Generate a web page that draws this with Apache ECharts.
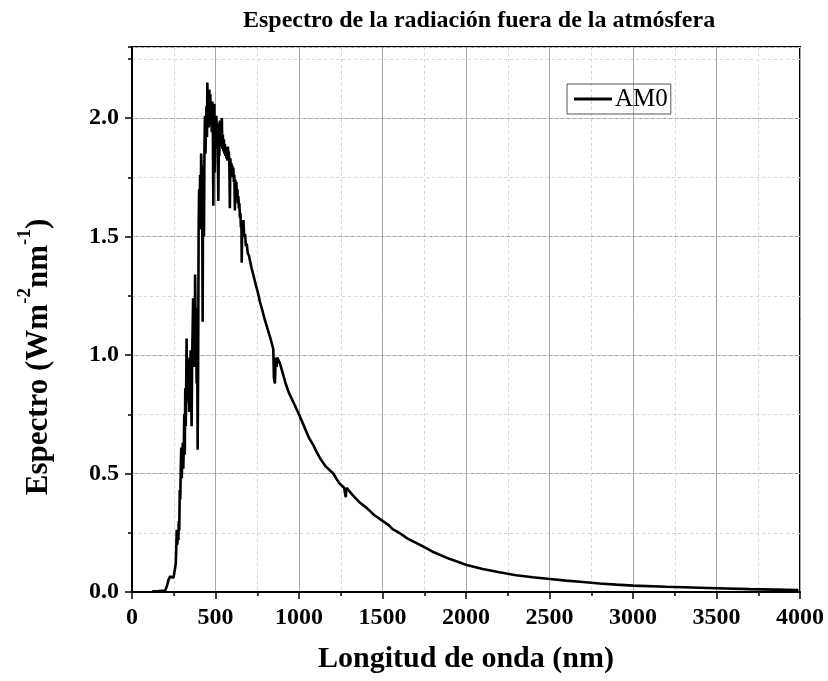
<!DOCTYPE html>
<html>
<head>
<meta charset="utf-8">
<script src="https://cdn.jsdelivr.net/npm/echarts@6/dist/echarts.min.js"></script>
<style>html,body{margin:0;padding:0;background:#fff}#c{width:828px;height:681px}</style>
</head>
<body>
<div id="c"></div>
<script>
// Wavelength (nm) and AM0 spectral irradiance (W m^-2 nm^-1)
const wavelengthNm = [
 120,160,198,208,218,228,238,248,252,257,262,265,268,271,275,278,
 280,283,286,289,292,295,298,301,304,307,310,313,316,319,322,325,327,330,333,336,339,342,345,348,
 351,354,357,360,363,366,369,372,375,378,381,384,387,390,393,396,399,402,405,408,411,414,417,420,
 423,426,429,431,434,437,440,443,446,449,451,454,457,460,463,466,469,472,475,478,481,484,487,490,
 493,496,499,502,505,508,511,514,517,520,523,526,529,532,535,538,541,544,547,550,553,556,559,562,
 565,568,571,574,577,580,583,586,589,592,595,598,601,604,607,610,613,616,619,622,625,628,631,634,
 637,640,643,646,649,652,655,657,660,664,667,672,677,682,687,693,700,
 715,726,740,755,766,780,795,810,825,835,846,850,856,860,866,870,886,900,920,940,960,980,1006,
 1030,1060,1086,1106,1130,1160,1205,1240,1270,1280,1285,1320,1360,1405,1450,1505,1540,1560,1585,1600,
 1650,1725,1800,1900,2004,2100,2200,2300,2400,2503,2600,2700,2800,2900,3002,3200,3400,3501,3700,3850,
 3990
];
const am0Irradiance = [
 0.002,0.004,0.006,0.022,0.05,0.065,0.072,0.06,0.075,0.079,0.12,0.18,0.263,0.20,0.24,0.22,
 0.30,0.26,0.43,0.39,0.52,0.61,0.48,0.56,0.63,0.52,0.60,0.75,0.58,0.86,0.70,0.92,1.07,0.80,0.98,0.84,0.95,0.76,0.99,0.88,
 1.02,0.84,0.70,0.98,1.10,1.24,1.02,1.18,0.95,1.34,1.10,1.20,0.88,1.18,0.60,0.95,1.53,1.70,1.62,1.76,1.53,1.85,1.78,1.70,
 1.14,1.80,1.62,1.50,1.88,2.01,1.85,1.96,2.05,1.92,2.15,2.02,2.08,1.96,2.12,2.04,2.10,1.97,2.04,1.94,2.07,1.98,1.63,1.95,
 2.06,1.77,1.96,1.88,2.01,1.92,1.98,1.86,1.65,1.90,1.84,1.99,1.90,1.97,1.88,2.00,1.87,1.93,1.86,1.91,1.85,1.89,1.84,1.88,
 1.83,1.87,1.82,1.88,1.84,1.86,1.80,1.62,1.83,1.78,1.81,1.76,1.80,1.75,1.79,1.73,1.76,1.61,1.74,1.70,1.73,1.67,1.70,1.64,
 1.67,1.62,1.64,1.58,1.60,1.54,1.56,1.39,1.55,1.52,1.57,1.50,1.51,1.46,1.47,1.43,1.42,
 1.37,1.34,1.30,1.26,1.225,1.19,1.15,1.115,1.08,1.055,1.025,0.90,0.88,0.99,0.95,0.99,0.965,0.93,0.88,0.84,0.81,0.78,0.74,
 0.70,0.65,0.62,0.59,0.56,0.53,0.50,0.46,0.44,0.40,0.44,0.41,0.38,0.355,0.325,0.298,0.28,0.265,0.256,0.25,
 0.225,0.199,0.17,0.14,0.114,0.097,0.083,0.071,0.062,0.055,0.048,0.042,0.036,0.031,0.027,0.022,0.018,0.016,0.012,0.010,
 0.008
];
const seriesName = 'AM0';
const chartTitle = 'Espectro de la radiación fuera de la atmósfera';
const xAxisTitle = 'Longitud de onda (nm)';

const serif = '"Liberation Serif", "Times New Roman", serif';
const points = wavelengthNm.map((w, i) => [w, am0Irradiance[i]]);

const chart = echarts.init(document.getElementById('c'), null, {renderer: 'canvas'});
chart.setOption({
  animation: false,
  backgroundColor: '#fff',
  title: {
    text: chartTitle, left: 238, top: 4,
    textStyle: {fontFamily: serif, fontWeight: 'bold', fontSize: 24, color: '#000'}
  },
  legend: {
    data: [seriesName], left: 567, top: 84,
    orient: 'vertical', icon: 'rect',
    borderColor: '#555', borderWidth: 1, borderRadius: 0,
    padding: [1, 3, 1, 7],
    itemWidth: 38, itemHeight: 3, itemGap: 4,
    textStyle: {fontFamily: serif, fontSize: 25, lineHeight: 28, color: '#000', padding: [0, 0, 0, -2]}
  },
  grid: {left: 132, right: 28, top: 47, bottom: 89, show: true, borderColor: '#000', borderWidth: 2, backgroundColor: 'transparent'},
  xAxis: {
    type: 'value', min: 0, max: 4000, interval: 500,
    name: xAxisTitle, nameLocation: 'middle', nameGap: 52,
    nameTextStyle: {fontFamily: serif, fontWeight: 'bold', fontSize: 30, color: '#000'},
    axisLine: {show: true, lineStyle: {color: '#000', width: 2}},
    axisTick: {show: true, inside: false, length: 7, lineStyle: {color: '#000', width: 1.5}},
    minorTick: {show: true, splitNumber: 2, length: 4, lineStyle: {color: '#000', width: 1.5}},
    splitLine: {show: true, lineStyle: {color: '#a6a6a6', width: 1}},
    minorSplitLine: {show: true, lineStyle: {color: '#d6d6d6', width: 1, type: [3, 3]}},
    axisLabel: {margin: 14, fontFamily: serif, fontWeight: 'bold', fontSize: 24, color: '#000',
      formatter: v => String(v)}
  },
  yAxis: [{
    type: 'value', min: 0, max: 2.3, interval: 0.5, position: 'left',
    axisLine: {show: true, lineStyle: {color: '#000', width: 2}},
    axisTick: {show: true, inside: false, length: 7, lineStyle: {color: '#000', width: 1.5}},
    splitLine: {show: true, lineStyle: {color: '#a6a6a6', width: 1}},
    axisLabel: {margin: 13, showMaxLabel: false, fontFamily: serif, fontWeight: 'bold', fontSize: 24, color: '#000',
      formatter: v => v.toFixed(1)}
  }, {
    type: 'value', min: 0, max: 2.3, interval: 0.25, position: 'left', z: 0,
    axisLine: {show: false},
    axisTick: {show: true, inside: false, length: 4, lineStyle: {color: '#000', width: 1.5}},
    axisLabel: {show: false},
    splitLine: {show: true, lineStyle: {color: '#d6d6d6', width: 1, type: [3, 3]}}
  }],
  graphic: [{
    type: 'text', x: 35, y: 357, rotation: Math.PI / 2,
    style: {
      text: '{b|Espectro (Wm}{s|-2}{b|nm}{s|-1}{b|)}',
      align: 'center', verticalAlign: 'middle',
      rich: {
        b: {fontFamily: serif, fontWeight: 'bold', fontSize: 31, fill: '#000', lineHeight: 38, verticalAlign: 'bottom'},
        s: {fontFamily: serif, fontWeight: 'bold', fontSize: 19, fill: '#000', lineHeight: 38, verticalAlign: 'top'}
      }
    }
  }],
  series: [{
    name: seriesName, type: 'line', data: points, yAxisIndex: 0,
    showSymbol: false, symbol: 'none',
    lineStyle: {color: '#000', width: 2.6}, itemStyle: {color: '#000'}
  }]
});
</script>
</body>
</html>
